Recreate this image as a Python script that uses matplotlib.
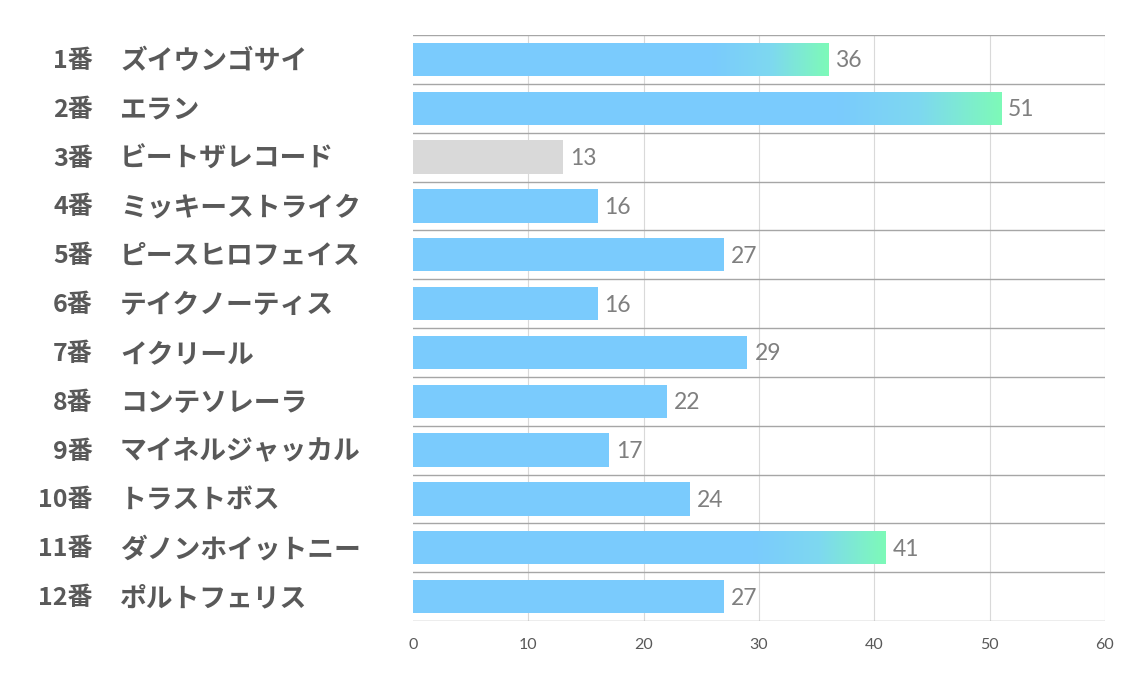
import numpy as np
import matplotlib.pyplot as plt
from matplotlib.colors import LinearSegmentedColormap

plt.rcParams['font.family'] = ['Noto Sans CJK JP', 'DejaVu Sans']

numbers = ['1番', '2番', '3番', '4番', '5番', '6番', '7番', '8番', '9番', '10番', '11番', '12番']
names = ['ズイウンゴサイ', 'エラン', 'ビートザレコード', 'ミッキーストライク', 'ピースヒロフェイス',
         'テイクノーティス', 'イクリール', 'コンテソレーラ', 'マイネルジャッカル', 'トラストボス',
         'ダノンホイットニー', 'ポルトフェリス']
values = [36, 51, 13, 16, 27, 16, 29, 22, 17, 24, 41, 27]
xticks = [0, 10, 20, 30, 40, 50, 60]

blue = '#7ACBFD'
green = '#7DFAB8'
gray = '#D9D9D9'

fig = plt.figure(figsize=(11.34, 6.8), dpi=100)
ax = fig.add_axes([413 / 1134, 1 - 621 / 680, 692 / 1134, 586 / 680])

y = np.arange(len(values))
top3 = sorted(range(len(values)), key=lambda i: values[i], reverse=True)[:3]
low = int(np.argmin(values))
colors = [gray if i == low else blue for i in range(len(values))]
h = 0.68
bars = ax.barh(y, values, height=h, color=colors, zorder=2)

# gradient on the top three bars, clipped to each bar
grad = LinearSegmentedColormap.from_list('g', [blue, '#7ED8F0', green])
img = np.linspace(0, 1, 256).reshape(1, -1)
for i in top3:
    v = values[i]
    im = ax.imshow(img, cmap=grad, extent=(v * 0.72, v, y[i] + 0.5, y[i] - 0.5),
                   aspect='auto', zorder=3, interpolation='bilinear')
    im.set_clip_path(bars[i])

for i, v in enumerate(values):
    ax.text(v + 0.6, y[i] + 0.03, str(v), va='center', ha='left', fontsize=16.5,
            color='#7F7F7F', family=['Lato', 'DejaVu Sans'], zorder=4)

ax.set_xlim(0, 60)
ax.set_ylim(len(values) - 0.5, -0.5)
ax.set_xticks(xticks)
ax.set_xticklabels([str(t) for t in xticks], fontsize=11.5, color='#595959',
                   family=['Lato', 'DejaVu Sans'])
ax.tick_params(axis='x', length=0, pad=12)
ax.set_yticks([])
for t in xticks[1:]:
    ax.axvline(t, color='#D9D9D9', lw=0.8, zorder=1)
for b in np.arange(len(values) + 1) - 0.5:
    ax.axhline(b, color='#A6A6A6', lw=1.0, zorder=1)
for s in ax.spines.values():
    s.set_visible(False)

for i in range(len(values)):
    yy = fig.transFigure.inverted().transform(ax.transData.transform((0, y[i] + 0.03)))[1]
    fig.text(93 / 1134, yy, numbers[i], ha='right', va='center', fontsize=18,
             fontweight='bold', color='#595959')
    fig.text(120 / 1134, yy, names[i], ha='left', va='center', fontsize=19.3,
             fontweight='bold', color='#595959')

fig.savefig('out.png', dpi=100)
